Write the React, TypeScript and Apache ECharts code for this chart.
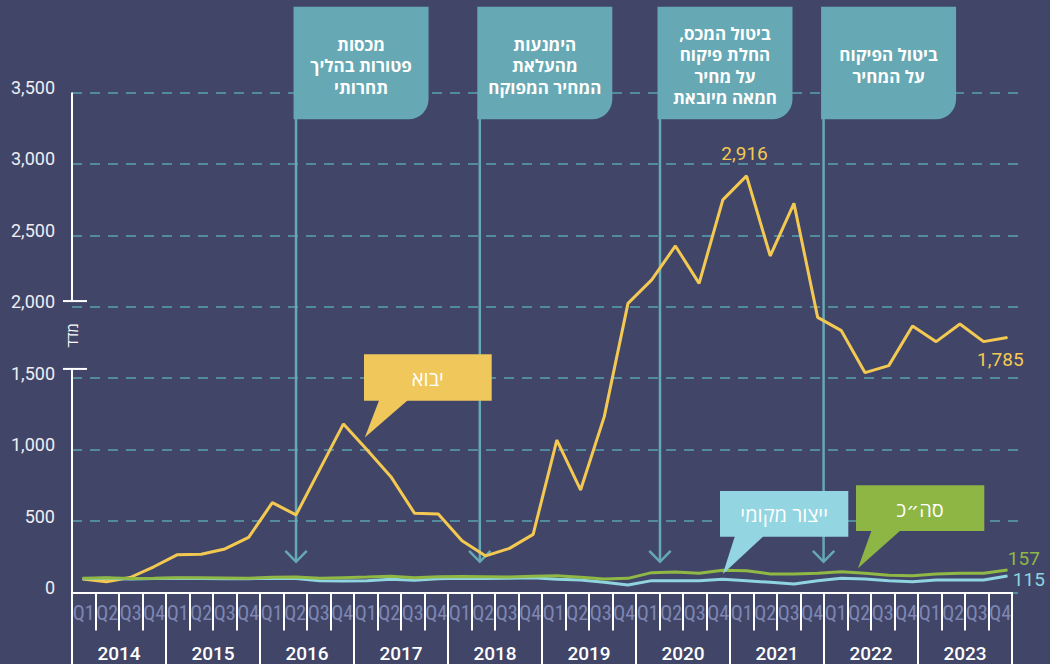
import React, { useEffect, useRef } from "react";
import * as echarts from "echarts";

// ---------- data ----------
const years = ["2014", "2015", "2016", "2017", "2018", "2019", "2020", "2021", "2022", "2023"];
const quarterNames = ["Q1", "Q2", "Q3", "Q4"];
const quarterLabels = years.flatMap(() => quarterNames);

// יבוא (import)
const importIndex = [
  95, 75, 105, 180, 265, 268, 305, 386, 629, 543,
  862, 1180, 997, 811, 554, 550, 363, 256, 309, 407,
  1067, 718, 1231, 2024, 2188, 2426, 2164, 2748, 2916, 2356,
  2724, 1926, 1833, 1539, 1588, 1866, 1756, 1880, 1756, 1785,
];
// סה"כ (total)
const totalIndex = [
  100, 103, 98, 100, 103, 104, 102, 100, 106, 108,
  100, 104, 108, 114, 104, 110, 112, 110, 108, 114,
  118, 106, 94, 99, 139, 143, 134, 155, 153, 130,
  130, 134, 145, 134, 120, 118, 130, 134, 134, 157,
];
// ייצור מקומי (local production)
const localIndex = [
  96, 100, 95, 98, 100, 98, 96, 97, 100, 98,
  82, 80, 82, 92, 86, 96, 100, 98, 100, 104,
  92, 87, 71, 52, 83, 83, 83, 92, 83, 71,
  59, 83, 99, 94, 83, 76, 87, 87, 87, 115,
];

const Y_MIN = 0;
const Y_MAX = 3500;
const Y_STEP = 500;
const Y_BREAK_LOW = 1565;
const Y_BREAK_HIGH = 2040;
const Y_NAME = "מדד";
const Y_NAME_AT = 1800;
const X_MIN = -0.45;
const X_MAX = 39.45;

const events = [
  { text: "מכסות\nפטורות בהליך\nתחרותי", at: 9 },
  { text: "הימנעות\nמהעלאת\nהמחיר המפוקח", at: 16.75 },
  { text: "ביטול המכס,\u200F\nהחלת פיקוח\nעל מחיר\nחמאה מיובאת", at: 24.35 },
  { text: "ביטול הפיקוח\nעל המחיר", at: 31.25 },
];
const EVENT_ARROW_AT = 215;

const callouts = [
  { text: "יבוא", color: "#f0c75a", box: [364, 354.3, 127.7, 46.4], base: [379.3, 408.3], tip: [11.9, 1085] },
  { text: "ייצור מקומי", color: "#93d5e0", box: [720, 491, 128.3, 45.7], base: [735, 764], tip: [27, 130] },
  { text: "סה״כ", color: "#8db644", box: [856, 485.3, 128.3, 45.7], base: [871.7, 901], tip: [32.7, 170] },
];

// ---------- styles ----------
const BG = "#414668";
const TEAL = "#66a8b3";
const GRID_DASH = "#5aa2b0";
const YELLOW = "#f4c952";
const GREEN = "#8fb844";
const LIGHTBLUE = "#8fd4df";
const HEB_FONT = "'Open Sans', 'DejaVu Sans', 'Liberation Sans', sans-serif";
const NUM_FONT = "Roboto, 'Noto Sans', sans-serif";

const fmt = (v: number) => v.toLocaleString("en-US");

function makeSeries(
  name: string,
  vals: number[],
  color: string,
  labels: Record<number, any>,
  z: number
) {
  return {
    type: "line",
    name,
    xAxisIndex: 0,
    yAxisIndex: 0,
    z,
    data: vals.map((v, i) =>
      labels[i] ? { value: [i, v], label: { show: true, ...labels[i] } } : { value: [i, v] }
    ),
    symbol: "circle",
    symbolSize: 1,
    showSymbol: true,
    lineStyle: { color, width: 3 },
    itemStyle: { color },
    label: {
      show: false,
      color,
      fontSize: 19,
      fontFamily: NUM_FONT,
      formatter: (p: any) => fmt(p.value[1]),
    },
  };
}

export default function App() {
  const ref = useRef<HTMLDivElement>(null);

  useEffect(() => {
    if (!ref.current) return;
    const chart = echarts.init(ref.current, undefined, { renderer: "svg" });
    const last = importIndex.length - 1;
    const peak = importIndex.indexOf(Math.max(...importIndex));

    const option: any = {
      animation: false,
      backgroundColor: BG,
      grid: [
        { left: 72, right: 32, top: 92.5, bottom: 71.5 },
        { left: 72, right: 38, top: 92.5, bottom: 71.5 },
      ],
      xAxis: [
        { gridIndex: 0, type: "value", min: X_MIN, max: X_MAX, show: false },
        {
          gridIndex: 1,
          type: "category",
          data: quarterLabels,
          position: "bottom",
          boundaryGap: true,
          axisLine: { show: true, lineStyle: { color: "#ffffff", width: 2 } },
          axisTick: { show: true, interval: 0, length: 38, lineStyle: { color: "#ffffff", width: 2 } },
          axisLabel: {
            interval: 0,
            color: "#7f86b3",
            fontSize: 20,
            fontFamily: "'Liberation Sans Narrow', 'Roboto Condensed', 'DejaVu Sans Condensed', Roboto, sans-serif",
            margin: 10,
          },
          splitLine: { show: false },
        },
        {
          gridIndex: 1,
          type: "category",
          data: years,
          position: "bottom",
          boundaryGap: true,
          axisLine: { show: false },
          axisTick: { show: true, interval: 0, length: 72, lineStyle: { color: "#ffffff", width: 2 } },
          axisLabel: {
            interval: 0,
            color: "#ffffff",
            fontSize: 19,
            fontWeight: 500,
            fontFamily: NUM_FONT,
            margin: 51,
          },
          splitLine: { show: false },
        },
      ],
      yAxis: [
        {
          gridIndex: 0,
          type: "value",
          min: Y_MIN,
          max: Y_MAX,
          interval: Y_STEP,
          axisLine: { show: false },
          axisTick: { show: false },
          axisLabel: {
            color: "#eeeef4",
            fontSize: 18,
            fontFamily: NUM_FONT,
            margin: 17,
            verticalAlign: "bottom",
            lineHeight: 10,
            formatter: (v: number) => fmt(v),
          },
          splitLine: { show: true, lineStyle: { color: GRID_DASH, type: [10, 8], width: 1.5 } },
        },
        { gridIndex: 1, type: "value", min: Y_MIN, max: Y_MAX, show: false },
      ],
      series: [
        makeSeries("יבוא", importIndex, YELLOW, {
          [peak]: { position: "top", distance: 12, offset: [-2, 0] },
          [last]: { position: "bottom", distance: 12, offset: [-7, 0] },
        }, 3),
        makeSeries("ייצור מקומי", localIndex, LIGHTBLUE, {
          [last]: { position: "right", distance: 5, offset: [0, 3], lineHeight: 16 },
        }, 4),
        makeSeries("סה״כ", totalIndex, GREEN, {
          [last]: { position: "right", distance: 0, offset: [0, -12], lineHeight: 16 },
        }, 5),
      ],
    };
    chart.setOption(option);

    const px = (x: number, v: number) => chart.convertToPixel({ gridIndex: 0 }, [x, v]) as number[];
    const axisX = px(X_MIN, 0)[0];
    const yTop = px(X_MIN, Y_MAX)[1];
    const yZero = px(X_MIN, Y_MIN)[1];
    const yHi = px(X_MIN, Y_BREAK_HIGH)[1];
    const yLo = px(X_MIN, Y_BREAK_LOW)[1];
    const yName = px(X_MIN, Y_NAME_AT)[1];

    const els: any[] = [];
    const white = { stroke: "#ffffff", lineWidth: 2 };
    els.push({ type: "line", silent: true, z: 6, shape: { x1: axisX, y1: yTop, x2: axisX, y2: yHi }, style: white });
    els.push({ type: "line", silent: true, z: 6, shape: { x1: axisX, y1: yLo, x2: axisX, y2: yZero }, style: white });
    els.push({ type: "line", silent: true, z: 6, shape: { x1: axisX - 9, y1: yHi, x2: axisX + 15, y2: yHi }, style: white });
    els.push({ type: "line", silent: true, z: 6, shape: { x1: axisX - 9, y1: yLo, x2: axisX + 15, y2: yLo }, style: white });
    els.push({
      type: "text",
      silent: true,
      z: 6,
      x: axisX,
      y: yName,
      rotation: Math.PI / 2,
      style: {
        text: Y_NAME,
        fill: "#ffffff",
        font: `15px ${HEB_FONT}`,
        align: "center",
        verticalAlign: "middle",
        textAlign: "center",
        textVerticalAlign: "middle",
      },
    });

    const BOX_TOP = 6.7;
    const BOX_H = 112.6;
    const BOX_W = 135;
    events.forEach((ev) => {
      const lx = px(ev.at, 0)[0];
      const tipY = px(ev.at, EVENT_ARROW_AT)[1];
      const bx = lx - 2.5;
      els.push({
        type: "line",
        silent: true,
        z: 1,
        shape: { x1: lx, y1: BOX_TOP + BOX_H - 2, x2: lx, y2: tipY },
        style: { stroke: TEAL, lineWidth: 2.5 },
      });
      els.push({
        type: "polyline",
        silent: true,
        z: 1,
        shape: { points: [[lx - 10.7, tipY - 11], [lx, tipY], [lx + 10.7, tipY - 11]] },
        style: { stroke: TEAL, lineWidth: 2.5, fill: "none" },
      });
      els.push({
        type: "rect",
        silent: true,
        z: 7,
        shape: { x: bx, y: BOX_TOP, width: BOX_W, height: BOX_H, r: [0, 0, 20, 0] },
        style: { fill: TEAL },
      });
      els.push({
        type: "text",
        silent: true,
        z: 8,
        x: bx + BOX_W / 2,
        y: 65.5,
        style: {
          text: ev.text,
          fill: "#ffffff",
          font: `bold 17px ${HEB_FONT}`,
          lineHeight: 21.5,
          align: "center",
          verticalAlign: "middle",
          textAlign: "center",
          textVerticalAlign: "middle",
        },
      });
    });

    callouts.forEach((c) => {
      const [bx, by, bw, bh] = c.box;
      const tip = px(c.tip[0], c.tip[1]);
      els.push({
        type: "polygon",
        silent: true,
        z: 9,
        shape: { points: [[c.base[0], by + bh - 1], [c.base[1], by + bh - 1], tip] },
        style: { fill: c.color },
      });
      els.push({
        type: "rect",
        silent: true,
        z: 9,
        shape: { x: bx, y: by, width: bw, height: bh },
        style: { fill: c.color },
      });
      els.push({
        type: "text",
        silent: true,
        z: 10,
        x: bx + bw / 2,
        y: by + bh / 2 + 1,
        style: {
          text: c.text,
          fill: "#ffffff",
          font: `20px ${HEB_FONT}`,
          align: "center",
          verticalAlign: "middle",
          textAlign: "center",
          textVerticalAlign: "middle",
        },
      });
    });

    chart.setOption({ graphic: { elements: els } });

    return () => chart.dispose();
  }, []);

  return (
    <div
      ref={ref}
      style={{ position: "fixed", left: 0, top: 0, width: 1050, height: 664, background: BG }}
    />
  );
}
